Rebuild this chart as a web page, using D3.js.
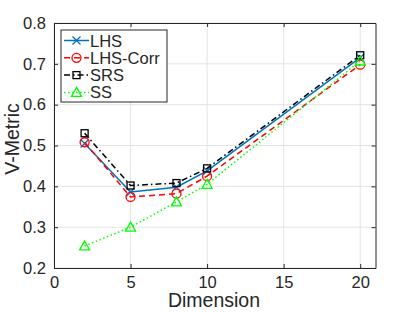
<!DOCTYPE html>
<html>
<head>
<meta charset="utf-8">
<script src="https://cdn.jsdelivr.net/npm/d3@7"></script>
<style>
  body { margin: 0; background: #fff; }
  text { font-family: "Liberation Sans", Arial, sans-serif; fill: #262626; }
</style>
</head>
<body>
<div id="chart"></div>
<script>
// ------------------------------ DATA ------------------------------
var dimensions = [2, 5, 8, 10, 20];
var seriesNames = ["LHS", "LHS-Corr", "SRS", "SS"];
var lhsValues = [0.505, 0.386, 0.398, 0.438, 0.715];
var lhsCorrValues = [0.508, 0.374, 0.382, 0.425, 0.698];
var srsValues = [0.530, 0.402, 0.408, 0.444, 0.721];
var ssValues = [0.254, 0.300, 0.362, 0.405, 0.707];
var xTicks = [0, 5, 10, 15, 20];
var yTicks = [0.2, 0.3, 0.4, 0.5, 0.6, 0.7, 0.8];

// ------------------------------ CONFIG ------------------------------
var width = 415, height = 312,
    plotLeft = 54, plotRight = 375.5, plotTop = 23, plotBottom = 268;

var styles = [
  {color: "#0072BD", dash: null, marker: "x"},
  {color: "#FF0000", dash: "6,4", marker: "o"},
  {color: "#000000", dash: "6,3,1.5,3", marker: "s"},
  {color: "#00FF00", dash: "1.5,2.5", marker: "^"}
];
var allValues = [lhsValues, lhsCorrValues, srsValues, ssValues];

// ------------------------------ MAIN ------------------------------
var svg = d3.select("#chart").append("svg")
    .attr("width", width)
    .attr("height", height);

var x = d3.scaleLinear().domain([0, 21]).range([plotLeft, plotRight]);
var y = d3.scaleLinear().domain([0.2, 0.8]).range([plotBottom, plotTop]);

// grid
svg.append("g").selectAll("line")
    .data(xTicks).enter().append("line")
    .attr("x1", function (d) {return x(d);}).attr("x2", function (d) {return x(d);})
    .attr("y1", plotTop).attr("y2", plotBottom)
    .attr("stroke", "#e3e3e3").attr("stroke-width", 1);
svg.append("g").selectAll("line")
    .data(yTicks).enter().append("line")
    .attr("y1", function (d) {return y(d);}).attr("y2", function (d) {return y(d);})
    .attr("x1", plotLeft).attr("x2", plotRight)
    .attr("stroke", "#e3e3e3").attr("stroke-width", 1);

// axes (ticks inside, box with ticks all round)
function styleAxis(g) {
  g.select(".domain").attr("stroke", "#262626").attr("stroke-width", 1);
  g.selectAll(".tick line").attr("stroke", "#262626");
  g.selectAll("text").style("font-family", "'Liberation Sans', Arial, sans-serif")
    .style("font-size", "16.5px").attr("fill", "#262626");
}
svg.append("g").attr("transform", "translate(0," + plotBottom + ")")
    .call(d3.axisBottom(x).tickValues(xTicks).tickSizeInner(-4).tickSizeOuter(0).tickPadding(8))
    .call(styleAxis);
svg.append("g").attr("transform", "translate(0," + plotTop + ")")
    .call(d3.axisTop(x).tickValues(xTicks).tickSizeInner(-4).tickSizeOuter(0).tickFormat(""))
    .call(styleAxis);
svg.append("g").attr("transform", "translate(" + plotLeft + ",0)")
    .call(d3.axisLeft(y).tickValues(yTicks).tickSizeInner(-4).tickSizeOuter(0).tickPadding(8).tickFormat(d3.format(".1f")))
    .call(styleAxis);
svg.append("g").attr("transform", "translate(" + plotRight + ",0)")
    .call(d3.axisRight(y).tickValues(yTicks).tickSizeInner(-4).tickSizeOuter(0).tickFormat(""))
    .call(styleAxis);

// axis labels
svg.append("text")
    .attr("x", 214).attr("y", 307)
    .attr("text-anchor", "middle").attr("font-size", "19.5px")
    .text("Dimension");
svg.append("text")
    .attr("transform", "translate(19,139) rotate(-90)")
    .attr("text-anchor", "middle").attr("font-size", "19.5px")
    .text("V-Metric");

// markers
function drawMarker(g, type, cx, cy, color) {
  if (type === "x") {
    g.append("path").attr("d", "M" + (cx - 4) + "," + (cy - 4) + "L" + (cx + 4) + "," + (cy + 4) +
        "M" + (cx - 4) + "," + (cy + 4) + "L" + (cx + 4) + "," + (cy - 4))
      .attr("stroke", color).attr("stroke-width", 1.3).attr("fill", "none");
  } else if (type === "o") {
    g.append("circle").attr("cx", cx).attr("cy", cy).attr("r", 4.5)
      .attr("stroke", color).attr("stroke-width", 1.3).attr("fill", "none");
  } else if (type === "s") {
    g.append("rect").attr("x", cx - 3.5).attr("y", cy - 3.5).attr("width", 7).attr("height", 7)
      .attr("stroke", color).attr("stroke-width", 1.3).attr("fill", "none");
  } else {
    g.append("path").attr("d", "M" + cx + "," + (cy - 5) + "L" + (cx + 5) + "," + (cy + 4) + "L" + (cx - 5) + "," + (cy + 4) + "Z")
      .attr("stroke", color).attr("stroke-width", 1.3).attr("fill", "none");
  }
}

var line = d3.line()
    .x(function (d, i) {return x(dimensions[i]);})
    .y(function (d) {return y(d);});

allValues.forEach(function (vals, k) {
  var s = styles[k];
  var g = svg.append("g");
  g.append("path").attr("d", line(vals))
    .attr("fill", "none").attr("stroke", s.color).attr("stroke-width", 1.5)
    .attr("stroke-dasharray", s.dash);
  vals.forEach(function (v, i) {
    drawMarker(g, s.marker, x(dimensions[i]), y(v), s.color);
  });
});

// legend
var legend = svg.append("g");
legend.append("rect").attr("x", 61).attr("y", 30).attr("width", 106).attr("height", 72)
    .attr("fill", "#fff").attr("stroke", "#262626").attr("stroke-width", 1);
seriesNames.forEach(function (name, k) {
  var s = styles[k];
  var ly = 40.5 + k * 17.3;
  legend.append("line").attr("x1", 64).attr("x2", 89).attr("y1", ly).attr("y2", ly)
    .attr("stroke", s.color).attr("stroke-width", 1.5).attr("stroke-dasharray", s.dash);
  drawMarker(legend, s.marker, 76.5, ly, s.color);
  legend.append("text").attr("x", 90).attr("y", ly + 6)
    .attr("font-size", "16.5px").attr("textLength", name.length > 3 ? null : null).text(name);
});
</script>
</body>
</html>
